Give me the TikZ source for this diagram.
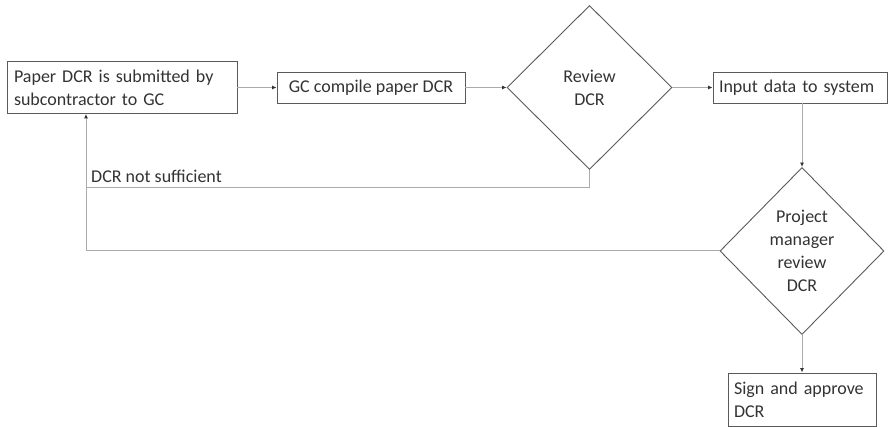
\documentclass[tikz,border=0pt]{standalone}
\usepackage{fontspec}
\setmainfont{Carlito}
\usetikzlibrary{shapes.geometric,arrows.meta}
\definecolor{bordc}{HTML}{5A5A5A}
\definecolor{linec}{HTML}{ABABAB}
\definecolor{txtc}{HTML}{333333}
\tikzset{
  x=1pt,y=-1pt,
  every node/.style={font=\fontsize{18}{23}\selectfont, text=txtc},
  boxnode/.style={draw=bordc, line width=0.9pt, rectangle, inner sep=0pt},
  decision/.style={draw=bordc, line width=0.9pt, diamond, inner sep=0pt, align=center},
  conn/.style={draw=linec, line width=1pt, -{Latex[length=4.5pt,width=4pt,color=black!80]}},
  plainconn/.style={draw=linec, line width=1pt},
}
\begin{document}
\begin{tikzpicture}
\useasboundingbox (0,0) rectangle (889,427);
\node[boxnode, minimum width=230, minimum height=52, align=left, text width=216] (b1) at (122,87.5) {Paper DCR is submitted by\\subcontractor to GC};
\node[boxnode, minimum width=188, minimum height=31] (b2) at (371,87.5) {GC compile paper DCR};
\node[decision, minimum width=165, minimum height=164] (d1) at (589.5,87.5) {\raisebox{-2pt}{Review}\\\raisebox{-2pt}{DCR}};
\node[boxnode, minimum width=174, minimum height=31, align=left, text width=162] (b3) at (800,87.5) {Input data to system};
\node[decision, minimum width=164, minimum height=167] (d2) at (802,251) {\raisebox{-2pt}{Project}\\\raisebox{-2pt}{manager}\\\raisebox{-2pt}{review}\\\raisebox{-2pt}{DCR}};
\node[boxnode, minimum width=148, minimum height=53, align=left, text width=136] (b4) at (802,399.5) {Sign and approve\\DCR};
\coordinate (c1) at (589.5,188);
\coordinate (c2) at (86,188);
\coordinate (c3) at (d2.west -| c2);
\draw[conn] (b1.east) -- (b2.west);
\draw[conn] (b2.east) -- (d1.west);
\draw[conn] (d1.east) -- (b3.west);
\draw[conn] (b3.south -| d2.north) -- (d2.north);
\draw[conn] (d2.south) -- (b4.north);
\draw[plainconn] (d1.south) -- (c1) -- (c2);
\draw[plainconn] (d2.west) -- (c3) -- (c2);
\draw[conn] (c2) -- (b1.south -| c2);
\node[anchor=south west, inner sep=0pt] (lab) at (91,183) {DCR not sufficient};
\end{tikzpicture}
\end{document}
